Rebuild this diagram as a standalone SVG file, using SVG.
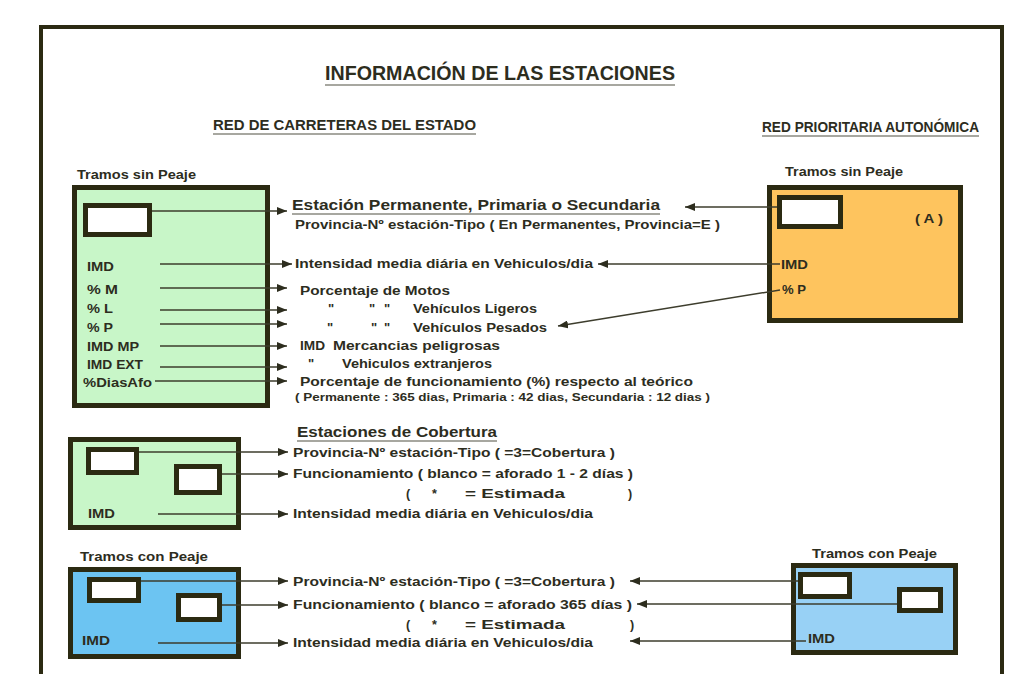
<svg xmlns="http://www.w3.org/2000/svg" width="1019" height="674" viewBox="0 0 1019 674">
<defs>
<marker id="ah" viewBox="0 0 10 8" refX="10" refY="4" markerWidth="10" markerHeight="8" markerUnits="userSpaceOnUse" orient="auto"><path d="M0,0 L10,4 L0,8 z" fill="#2d2d1e"/></marker>
<style>
text{font-family:"Liberation Sans",Arial,sans-serif;font-weight:bold;fill:#2d2d1e}
.t{font-size:13px}
.s{font-size:12.5px}
.xs{font-size:11px}
.h{font-size:15px}
.ul{stroke:#8a8a80;stroke-width:1.5}
.box{stroke:#2b2a12;stroke-width:5}
.in{fill:#ffffff;stroke:#2b2a12;stroke-width:5}
.c line{stroke:#3d3d2d;stroke-width:1.5;fill:none}
.a{marker-end:url(#ah)}
</style>
</defs>
<rect x="0" y="0" width="1019" height="674" fill="#ffffff"/>
<rect x="41" y="27" width="961" height="720" fill="#ffffff" stroke="#2b2a12" stroke-width="4"/>

<g id="titles">
<text x="325" y="80" font-size="20" textLength="350" lengthAdjust="spacingAndGlyphs">INFORMACIÓN DE LAS ESTACIONES</text>
<line class="ul" x1="325" y1="85" x2="675" y2="85"/>
<text x="213" y="130" font-size="15.5" textLength="263" lengthAdjust="spacingAndGlyphs">RED DE CARRETERAS DEL ESTADO</text>
<line class="ul" x1="213" y1="134" x2="476" y2="134"/>
<text x="762" y="132" font-size="15.5" textLength="217" lengthAdjust="spacingAndGlyphs">RED PRIORITARIA AUTONÓMICA</text>
<line class="ul" x1="762" y1="136" x2="979" y2="136"/>
</g>

<g id="estado-sin-peaje">
<text class="t" x="77" y="179" textLength="119" lengthAdjust="spacingAndGlyphs">Tramos sin Peaje</text>
<rect class="box" x="74.5" y="187.5" width="193" height="218" fill="#c8f6c8"/>
<rect class="in" x="85.5" y="205.5" width="64" height="29"/>
<text class="t" x="87" y="271" textLength="27" lengthAdjust="spacingAndGlyphs">IMD</text>
<text class="t" x="87" y="294" textLength="31" lengthAdjust="spacingAndGlyphs">% M</text>
<text class="t" x="87" y="313" textLength="26" lengthAdjust="spacingAndGlyphs">% L</text>
<text class="t" x="87" y="332" textLength="26" lengthAdjust="spacingAndGlyphs">% P</text>
<text class="t" x="87" y="351" textLength="52" lengthAdjust="spacingAndGlyphs">IMD MP</text>
<text class="t" x="87" y="369" textLength="56" lengthAdjust="spacingAndGlyphs">IMD EXT</text>
<text class="t" x="83" y="387" textLength="69" lengthAdjust="spacingAndGlyphs">%DiasAfo</text>
</g>

<g id="estado-descripcion">
<text class="h" x="292" y="210" textLength="368" lengthAdjust="spacingAndGlyphs">Estación Permanente, Primaria o Secundaria</text>
<line class="ul" x1="292" y1="214" x2="660" y2="214"/>
<text class="s" x="295" y="229" textLength="425" lengthAdjust="spacingAndGlyphs">Provincia-Nº estación-Tipo ( En Permanentes, Provincia=E  )</text>
<text class="t" x="295" y="268" textLength="298" lengthAdjust="spacingAndGlyphs">Intensidad media diária en Vehiculos/dia</text>
<text class="t" x="300" y="295" textLength="150" lengthAdjust="spacingAndGlyphs">Porcentaje de Motos</text>
<text class="t" x="328" y="313">"</text><text class="t" x="369" y="313">"</text><text class="t" x="384" y="313">"</text>
<text class="t" x="413" y="313" textLength="124" lengthAdjust="spacingAndGlyphs">Vehículos Ligeros</text>
<text class="t" x="327" y="332">"</text><text class="t" x="371" y="332">"</text><text class="t" x="384" y="332">"</text>
<text class="t" x="413" y="332" textLength="134" lengthAdjust="spacingAndGlyphs">Vehículos Pesados</text>
<text class="t" x="300" y="350" textLength="25" lengthAdjust="spacingAndGlyphs">IMD</text>
<text class="t" x="333" y="350" textLength="167" lengthAdjust="spacingAndGlyphs">Mercancias peligrosas</text>
<text class="t" x="308" y="368">"</text>
<text class="t" x="342" y="368" textLength="150" lengthAdjust="spacingAndGlyphs">Vehiculos extranjeros</text>
<text class="t" x="300" y="386" textLength="393" lengthAdjust="spacingAndGlyphs">Porcentaje de funcionamiento (%) respecto al teórico</text>
<text class="xs" x="295" y="401" textLength="415" lengthAdjust="spacingAndGlyphs">( Permanente : 365 dias, Primaria  :  42 dias, Secundaria  : 12 dias )</text>
</g>

<g id="autonomica-sin-peaje">
<text class="t" x="785" y="176" textLength="118" lengthAdjust="spacingAndGlyphs">Tramos sin Peaje</text>
<rect class="box" x="769.5" y="187.5" width="191" height="133" fill="#fec45e"/>
<rect class="in" x="779.5" y="197.5" width="61" height="29"/>
<text class="t" x="915" y="223" textLength="28" lengthAdjust="spacingAndGlyphs">( A )</text>
<text class="t" x="781" y="269" textLength="27" lengthAdjust="spacingAndGlyphs">IMD</text>
<text class="t" x="782" y="294" textLength="24" lengthAdjust="spacingAndGlyphs">% P</text>
</g>

<g id="cobertura">
<text class="h" x="297" y="437" textLength="200" lengthAdjust="spacingAndGlyphs">Estaciones de Cobertura</text>
<line class="ul" x1="297" y1="441" x2="497" y2="441"/>
<rect class="box" x="70.5" y="439.5" width="168" height="88" fill="#c8f6c8"/>
<rect class="in" x="88.5" y="449.5" width="48" height="23"/>
<rect class="in" x="176.5" y="466.5" width="43" height="26"/>
<text class="t" x="88" y="518" textLength="27" lengthAdjust="spacingAndGlyphs">IMD</text>
<text class="s" x="293" y="457" textLength="322" lengthAdjust="spacingAndGlyphs">Provincia-Nº estación-Tipo ( =3=Cobertura )</text>
<text class="s" x="293" y="478" textLength="340" lengthAdjust="spacingAndGlyphs">Funcionamiento ( blanco = aforado 1 - 2 días )</text>
<text class="s" x="406" y="498">(</text><text class="s" x="432" y="498">*</text>
<text class="s" x="465" y="498" textLength="100" lengthAdjust="spacingAndGlyphs">= Estimada</text>
<text class="s" x="628" y="498">)</text>
<text class="s" x="293" y="518" textLength="300" lengthAdjust="spacingAndGlyphs">Intensidad media diária en Vehiculos/dia</text>
</g>

<g id="estado-con-peaje">
<text class="t" x="80" y="561" textLength="128" lengthAdjust="spacingAndGlyphs">Tramos con Peaje</text>
<rect class="box" x="70.5" y="569.5" width="168" height="87" fill="#6cc4f2"/>
<rect class="in" x="89.5" y="579.5" width="49" height="21"/>
<rect class="in" x="178.5" y="595.5" width="41" height="24"/>
<text class="t" x="82" y="645" textLength="28" lengthAdjust="spacingAndGlyphs">IMD</text>
<text class="s" x="293" y="586" textLength="322" lengthAdjust="spacingAndGlyphs">Provincia-Nº estación-Tipo ( =3=Cobertura )</text>
<text class="s" x="293" y="609" textLength="339" lengthAdjust="spacingAndGlyphs">Funcionamiento ( blanco = aforado 365 días )</text>
<text class="s" x="406" y="629">(</text><text class="s" x="432" y="629">*</text>
<text class="s" x="465" y="629" textLength="100" lengthAdjust="spacingAndGlyphs">= Estimada</text>
<text class="s" x="630" y="629">)</text>
<text class="s" x="293" y="647" textLength="300" lengthAdjust="spacingAndGlyphs">Intensidad media diária en Vehiculos/dia</text>
</g>

<g id="autonomica-con-peaje">
<text class="t" x="812" y="558" textLength="125" lengthAdjust="spacingAndGlyphs">Tramos con Peaje</text>
<rect class="box" x="793.5" y="565.5" width="162" height="87" fill="#98d1f5"/>
<rect class="in" x="800.5" y="574.5" width="49" height="22"/>
<rect class="in" x="899.5" y="589.5" width="41" height="21"/>
<text class="t" x="808" y="643" textLength="27" lengthAdjust="spacingAndGlyphs">IMD</text>
</g>

<g id="connectors" class="c">
<line class="a" x1="152" y1="211" x2="287" y2="211"/>
<line class="a" x1="160" y1="264" x2="292" y2="264"/>
<line class="a" x1="160" y1="288" x2="287" y2="288"/>
<line class="a" x1="160" y1="310" x2="287" y2="310"/>
<line class="a" x1="160" y1="324" x2="287" y2="324"/>
<line class="a" x1="160" y1="346" x2="287" y2="346"/>
<line class="a" x1="160" y1="367" x2="287" y2="367"/>
<line class="a" x1="155" y1="381" x2="287" y2="381"/>
<line class="a" x1="777" y1="207" x2="685" y2="207"/>
<line class="a" x1="780" y1="264" x2="598" y2="264"/>
<line class="a" x1="780" y1="290" x2="558" y2="326"/>
<line class="a" x1="139" y1="452" x2="288" y2="452"/>
<line class="a" x1="222" y1="474" x2="288" y2="474"/>
<line class="a" x1="158" y1="514" x2="288" y2="514"/>
<line class="a" x1="141" y1="581" x2="288" y2="581"/>
<line class="a" x1="222" y1="605" x2="288" y2="605"/>
<line class="a" x1="158" y1="643" x2="288" y2="643"/>
<line class="a" x1="798" y1="581" x2="630" y2="581"/>
<line class="a" x1="897" y1="604" x2="637" y2="604"/>
<line class="a" x1="806" y1="641" x2="630" y2="641"/>
</g>
</svg>
